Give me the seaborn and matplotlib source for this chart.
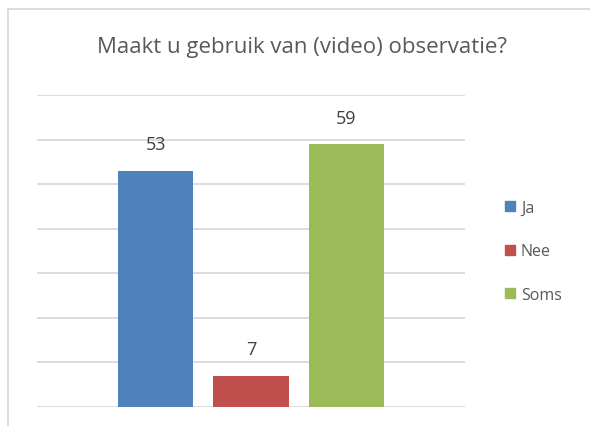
import matplotlib
matplotlib.use("Agg")
import matplotlib.pyplot as plt
import seaborn as sns
import pandas as pd
from matplotlib.patches import Rectangle

categories = ["Ja", "Nee", "Soms"]
values = [53, 7, 59]
colors = ["#4F81BD", "#C0504D", "#9BBB59"]
title = "Maakt u gebruik van (video) observatie?"

sns.set_style("white")
plt.rcParams['font.family'] = ['Open Sans', 'DejaVu Sans']

df = pd.DataFrame({"cat": categories, "val": values})

fig = plt.figure(figsize=(5.9, 4.27), dpi=100)
ax = fig.add_axes([37/590, 19/427, 428/590, 312/427])

sns.barplot(data=df, x="cat", y="val", hue="cat", palette=colors,
            width=75/95, ax=ax, legend=False, saturation=1, zorder=3,
            linewidth=0, edgecolor="none")

ax.set_xlim(1 - 214/95, 1 + 214/95)
ax.set_ylim(0, 70)
ax.set_yticks(range(0, 71, 10))
ax.yaxis.grid(True, color="#D9D9D9", linewidth=1.3, zorder=0)
ax.set_axisbelow(True)
ax.set_xticks([])
ax.tick_params(left=False, labelleft=False)
ax.set_xlabel("")
ax.set_ylabel("")
for s in ax.spines.values():
    s.set_visible(False)

for i, v in enumerate(values):
    ax.text(i, v + 3.9, str(v), ha="center", va="bottom", fontsize=13, color="#404040")

handles = [Rectangle((0, 0), 1, 1, color=c) for c in colors]
leg = fig.legend(handles, categories, loc="upper left", bbox_to_anchor=(505/590, 1 - 201/427),
                 frameon=False, fontsize=11.5, labelcolor="#595959",
                 handlelength=0.6, handleheight=0.6, handletextpad=0.4,
                 labelspacing=1.72, borderaxespad=0, borderpad=0)

fig.text(302/590, 1 - 47/427, title, ha="center", va="center", fontsize=16, color="#595959")

border = Rectangle((8/590, -0.1), 1.2, 1 - 10/427 + 0.1, transform=fig.transFigure,
                   fill=False, edgecolor="#D9D9D9", linewidth=1.3, clip_on=False)
fig.patches.append(border)

fig.savefig("out.png", dpi=100)
